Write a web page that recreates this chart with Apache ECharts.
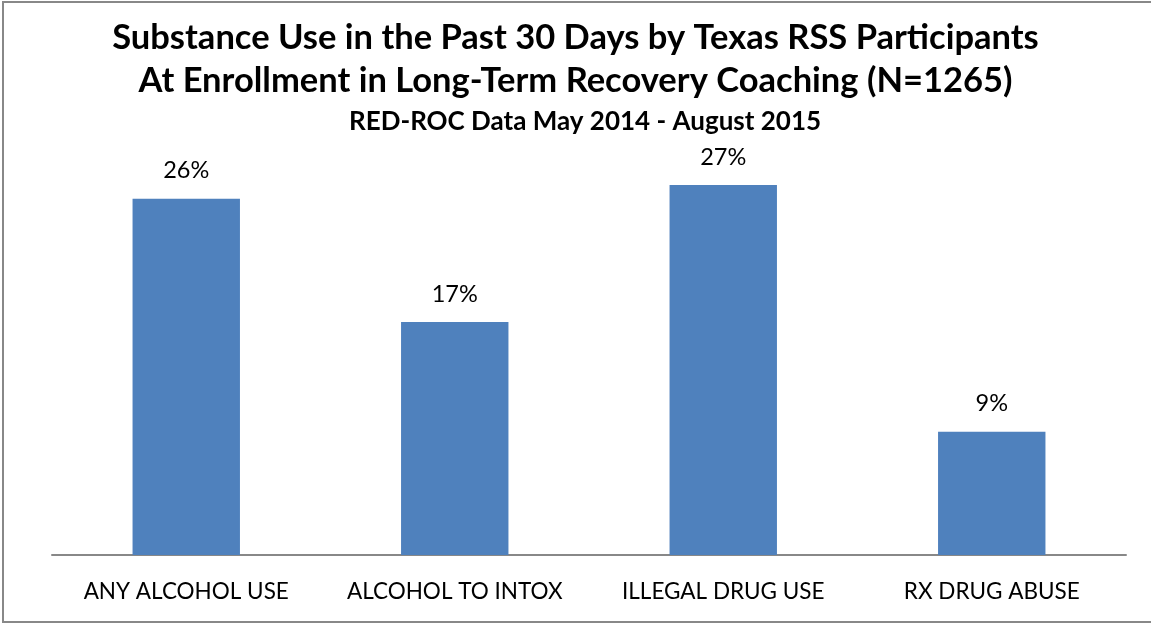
<!DOCTYPE html>
<html>
<head>
<meta charset="utf-8">
<script src="https://cdn.jsdelivr.net/npm/echarts@6/dist/echarts.min.js"></script>
<style>
html, body { margin: 0; padding: 0; background: #fff; }
#chart { width: 1151px; height: 624px; }
</style>
</head>
<body>
<div id="chart"></div>
<script>
// 数据
var categories = ['ANY ALCOHOL USE', 'ALCOHOL TO INTOX', 'ILLEGAL DRUG USE', 'RX DRUG ABUSE'];
var values = [26, 17, 27, 9];
var yMax = 30;

var font = 'Lato, "Open Sans", sans-serif';

var e = echarts.init(document.getElementById('chart'));
var option = {
    animation: false,
    title: [
        {
            text: 'Substance Use in the Past 30 Days by Texas RSS Participants\nAt Enrollment in Long-Term Recovery Coaching (N=1265)',
            left: 'center',
            top: 11,
            textStyle: {
                fontFamily: font,
                fontSize: 34.5,
                fontWeight: 'bold',
                color: '#000',
                lineHeight: 43
            }
        },
        {
            text: 'RED-ROC Data May 2014 - August 2015',
            left: 344,
            top: 104,
            textStyle: {
                fontFamily: font,
                fontSize: 26,
                fontWeight: 'bold',
                color: '#000'
            }
        }
    ],
    grid: {
        left: 52,
        right: 25,
        top: 144,
        bottom: 69,
        containLabel: false
    },
    xAxis: {
        type: 'category',
        data: categories,
        axisLine: { lineStyle: { color: '#888', width: 2 } },
        axisTick: { show: false },
        axisLabel: {
            interval: 0,
            fontFamily: font,
            fontSize: 22.5,
            color: '#000',
            margin: 25
        }
    },
    yAxis: {
        type: 'value',
        min: 0,
        max: yMax,
        show: false
    },
    series: [
        {
            type: 'bar',
            data: values,
            barWidth: '40%',
            itemStyle: { color: '#4F81BD' },
            label: {
                show: true,
                position: 'top',
                distance: 16,
                formatter: '{c}%',
                fontFamily: font,
                fontSize: 23.5,
                color: '#000'
            }
        }
    ],
    graphic: [
        {
            type: 'rect',
            shape: { x: 3, y: 2, width: 1160, height: 620 },
            style: { fill: 'none', stroke: '#888', lineWidth: 2 },
            silent: true
        }
    ]
};
e.setOption(option);
</script>
</body>
</html>
